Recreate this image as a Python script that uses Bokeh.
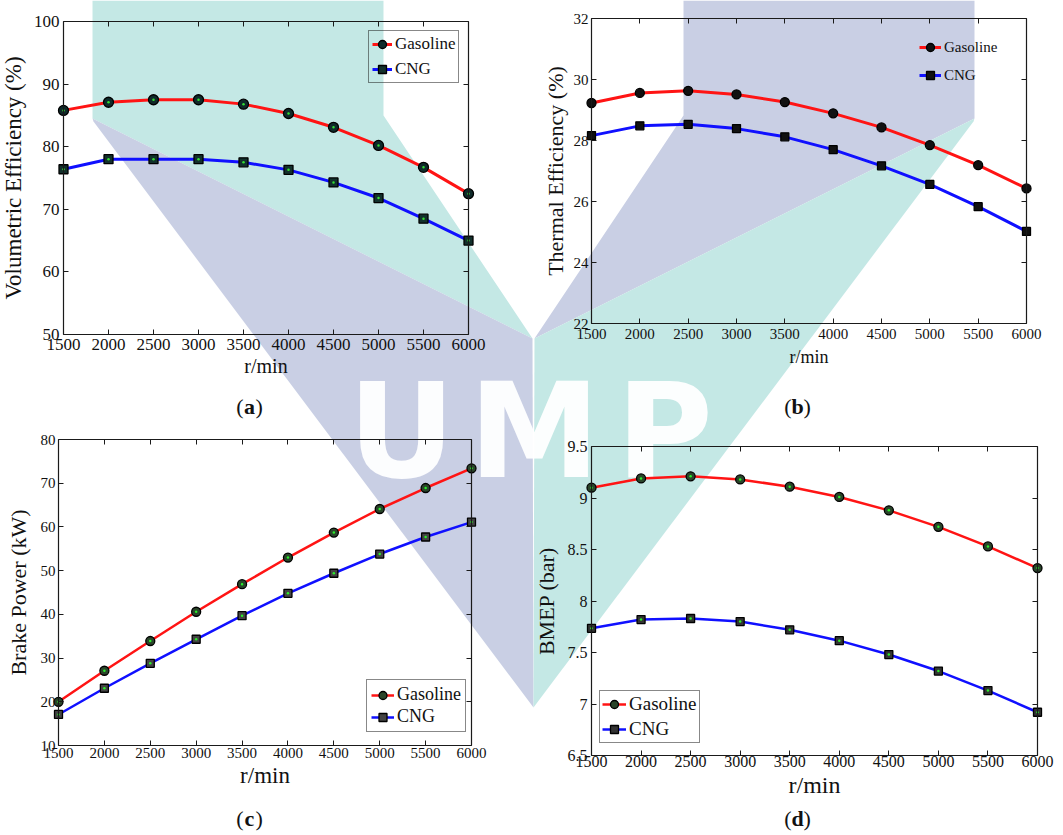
from bokeh.plotting import figure
from bokeh.models import (Range1d, LinearAxis, FixedTicker, Legend, LegendItem,
                          CustomJSTickFormatter)
from bokeh.core.properties import value
from bokeh.embed import file_html
from bokeh.resources import INLINE

W, H = 1063, 835
SERIF = "Liberation Serif"

# ---------------- data ----------------
rpm = [1500, 2000, 2500, 3000, 3500, 4000, 4500, 5000, 5500, 6000]

ve_gasoline = [85.8, 87.1, 87.5, 87.5, 86.8, 85.3, 83.1, 80.2, 76.7, 72.5]
ve_cng = [76.4, 78.0, 78.0, 78.0, 77.5, 76.3, 74.3, 71.8, 68.5, 65.0]

te_gasoline = [29.23, 29.56, 29.63, 29.51, 29.26, 28.89, 28.43, 27.85, 27.19, 26.43]
te_cng = [28.16, 28.48, 28.53, 28.39, 28.12, 27.70, 27.17, 26.56, 25.83, 25.02]

bp_gasoline = [20.0, 27.1, 33.9, 40.6, 46.9, 53.0, 58.7, 64.1, 68.9, 73.4]
bp_cng = [17.1, 23.1, 28.8, 34.3, 39.7, 44.8, 49.4, 53.8, 57.7, 61.1]

bmep_gasoline = [9.10, 9.19, 9.21, 9.18, 9.11, 9.01, 8.88, 8.72, 8.53, 8.32]
bmep_cng = [7.735, 7.82, 7.83, 7.80, 7.72, 7.615, 7.48, 7.32, 7.13, 6.92]

ve_ticks = [50, 60, 70, 80, 90, 100]
te_ticks = [22, 24, 26, 28, 30, 32]
bp_ticks = [10, 20, 30, 40, 50, 60, 70, 80]
bmep_ticks = [6.5, 7, 7.5, 8, 8.5, 9, 9.5]

series_labels = ["Gasoline", "CNG"]
y_titles = ["Volumetric Efficiency (%)", "Thermal Efficiency (%)",
            "Brake Power (kW)", "BMEP (bar)"]
x_title = "r/min"
caption_letters = ["a", "b", "c", "d"]

# ---------------- watermark (page pixel coordinates) ----------------
logo_teal_left_x = [92, 383, 383, 532, 92]
logo_teal_left_y = [0, 0, 115, 338, 118]
logo_lav_left_x = [92, 532, 533, 93]
logo_lav_left_y = [118, 338, 707, 121]
logo_lav_right_x = [974, 683, 683, 534, 974]
logo_lav_right_y = [0, 0, 115, 338, 118]
logo_teal_right_x = [974, 534, 533, 973]
logo_teal_right_y = [118, 338, 707, 121]
logo_letters = ["U", "M", "P"]
logo_letters_x = [401, 534, 664]
logo_letters_y = [430, 430, 430]
TEAL = "#c4e8e5"
LAV = "#c9cfe4"

p = figure(width=W, height=H, x_range=Range1d(0, W), y_range=Range1d(H, 0),
           output_backend="svg", toolbar_location=None, min_border=0,
           x_axis_location=None, y_axis_location=None)
p.grid.visible = False
p.outline_line_color = None
p.background_fill_color = "white"
p.border_fill_color = "white"

p.patch(logo_teal_left_x, logo_teal_left_y, fill_color=TEAL, line_color=None)
p.patch(logo_lav_left_x, logo_lav_left_y, fill_color=LAV, line_color=None)
p.patch(logo_lav_right_x, logo_lav_right_y, fill_color=LAV, line_color=None)
p.patch(logo_teal_right_x, logo_teal_right_y, fill_color=TEAL, line_color=None)
p.text(x=logo_letters_x, y=logo_letters_y, text=logo_letters,
       text_font=value("DejaVu Sans"), text_font_style="bold",
       text_font_size="132px", text_color="white", text_align="center",
       text_baseline="alphabetic", text_alpha=0.95)

panels = [
    dict(key="a", box=(63, 468, 21, 334), yr=(50, 100), ticks=ve_ticks,
         g=ve_gasoline, c=ve_cng, ytitle=y_titles[0],
         tick_fs=17, xl_fs=20, yl_fs=23, leg_fs=17,
         leg_loc=(368, H - 83), leg_border=True, leg_pad=3, leg_sp=5, glyph_w=20,
         lw=3, cfill="#0f2a2a", sfill="#12302c", dot="#33dd33", msize=10,
         xstand=4, ystand=4, ylab_stand=5, xlab_stand=2, cap=(249, 406)),
    dict(key="b", box=(591, 1026, 18, 323), yr=(22, 32), ticks=te_ticks,
         g=te_gasoline, c=te_cng, ytitle=y_titles[1],
         tick_fs=15, xl_fs=18, yl_fs=22, leg_fs=15,
         leg_loc=(919, H - 85), leg_border=False, leg_pad=4, leg_sp=8, glyph_w=22,
         lw=3, cfill="#111111", sfill="#111111", dot=None, msize=9,
         xstand=5, ystand=3, ylab_stand=3, xlab_stand=5, cap=(797, 406)),
    dict(key="c", box=(58, 471, 439, 745), yr=(10, 80), ticks=bp_ticks,
         g=bp_gasoline, c=bp_cng, ytitle=y_titles[2],
         tick_fs=15, xl_fs=23, yl_fs=22, leg_fs=18,
         leg_loc=(366, H - 732), leg_border=True, leg_pad=4, leg_sp=1, glyph_w=23,
         lw=2.5, cfill="#2a452a", sfill="#444444", dot="#2bee2b", msize=9,
         xstand=2, ystand=3, ylab_stand=7, xlab_stand=2, cap=(249, 818)),
    dict(key="d", box=(591, 1037, 446, 755), yr=(6.5, 9.5), ticks=bmep_ticks,
         g=bmep_gasoline, c=bmep_cng, ytitle=y_titles[3],
         tick_fs=16, xl_fs=24, yl_fs=22, leg_fs=19,
         leg_loc=(599, H - 743), leg_border=True, leg_pad=2, leg_sp=3, glyph_w=24,
         lw=2.5, cfill="#2a452a", sfill="#333333", dot="#2bee2b", msize=9,
         xstand=0, ystand=4, ylab_stand=6, xlab_stand=2, cap=(797, 818)),
]

AX = "#1a1a1a"

for i, s in enumerate(panels):
    k = s["key"]
    x0, x1, y0, y1 = s["box"]
    xmin, xmax = rpm[0], rpm[-1]
    ymin, ymax = s["yr"]
    sx = (xmax - xmin) / (x1 - x0)
    sy = (ymax - ymin) / (y1 - y0)
    p.extra_x_ranges[k] = Range1d(xmin - x0 * sx, xmin + (W - x0) * sx)
    p.extra_y_ranges[k] = Range1d(ymin - (H - y1) * sy, ymax + y0 * sy)

    common = dict(x_range_name=k, y_range_name=k, axis_line_color=AX,
                  axis_line_width=1.2, major_tick_line_color=AX,
                  major_tick_in=5, major_tick_out=0, minor_tick_line_color=None,
                  major_label_text_font=SERIF, major_label_text_color="#111111",
                  major_label_text_font_size=f"{s['tick_fs']}px",
                  axis_label_text_font=SERIF, axis_label_text_font_style="normal",
                  axis_label_text_color="#111111")
    yfmt = {}
    if k == "d":
        yfmt = dict(formatter=CustomJSTickFormatter(code="return String(tick)"))

    bottom = LinearAxis(ticker=FixedTicker(ticks=rpm), bounds=(xmin, xmax),
                        fixed_location=ymin, axis_label=x_title,
                        axis_label_text_font_size=f"{s['xl_fs']}px",
                        major_label_standoff=s["xstand"],
                        axis_label_standoff=s["xlab_stand"], **common)
    top = LinearAxis(ticker=FixedTicker(ticks=rpm), bounds=(xmin, xmax),
                     fixed_location=ymax, major_label_text_alpha=0, **common)
    left = LinearAxis(ticker=FixedTicker(ticks=s["ticks"]), bounds=(ymin, ymax),
                      fixed_location=xmin, axis_label=s["ytitle"],
                      axis_label_text_font_size=f"{s['yl_fs']}px",
                      major_label_standoff=s["ystand"],
                      axis_label_standoff=s["ylab_stand"], **yfmt, **common)
    right = LinearAxis(ticker=FixedTicker(ticks=s["ticks"]), bounds=(ymin, ymax),
                       fixed_location=xmax, major_label_text_alpha=0, **common)
    p.add_layout(bottom, "below")
    p.add_layout(top, "above")
    p.add_layout(left, "left")
    p.add_layout(right, "right")

    rk = dict(x_range_name=k, y_range_name=k)
    lg = p.line(rpm, s["g"], line_color="#ff1414", line_width=s["lw"], **rk)
    lc = p.line(rpm, s["c"], line_color="#1010ff", line_width=s["lw"], **rk)
    mg = p.scatter(rpm, s["g"], marker="circle", size=s["msize"], fill_color=s["cfill"],
                   line_color="black", line_width=1.3, **rk)
    mc = p.scatter(rpm, s["c"], marker="square", size=s["msize"] - 1, fill_color=s["sfill"],
                   line_color="black", line_width=1.3, **rk)
    if s["dot"]:
        p.scatter(rpm, s["g"], marker="circle", size=2.5, fill_color=s["dot"],
                  line_color=None, **rk)
        p.scatter(rpm, s["c"], marker="circle", size=2.5, fill_color=s["dot"],
                  line_color=None, **rk)

    leg = Legend(items=[LegendItem(label=value(series_labels[0]), renderers=[lg, mg]),
                        LegendItem(label=value(series_labels[1]), renderers=[lc, mc])],
                 location=s["leg_loc"], margin=0, padding=s["leg_pad"],
                 spacing=s["leg_sp"], glyph_width=s["glyph_w"], glyph_height=20,
                 label_height=20, label_standoff=3,
                 label_text_font=SERIF, label_text_font_size=f"{s['leg_fs']}px",
                 label_text_color="#111111",
                 background_fill_alpha=0,
                 border_line_color="#111111" if s["leg_border"] else None,
                 border_line_width=1.5)
    p.add_layout(leg)

    cx, cy = s["cap"]
    p.text(x=[cx - 6], y=[cy], text=["("], text_font=value(SERIF),
           text_font_size="22px", text_align="right", text_baseline="middle",
           text_color="#111111")
    p.text(x=[cx], y=[cy], text=[caption_letters[i]], text_font=value(SERIF),
           text_font_size="22px", text_font_style="bold", text_align="center",
           text_baseline="middle", text_color="#111111")
    p.text(x=[cx + 6], y=[cy], text=[")"], text_font=value(SERIF),
           text_font_size="22px", text_align="left", text_baseline="middle",
           text_color="#111111")

open("out.html", "w").write(file_html(p, INLINE))
